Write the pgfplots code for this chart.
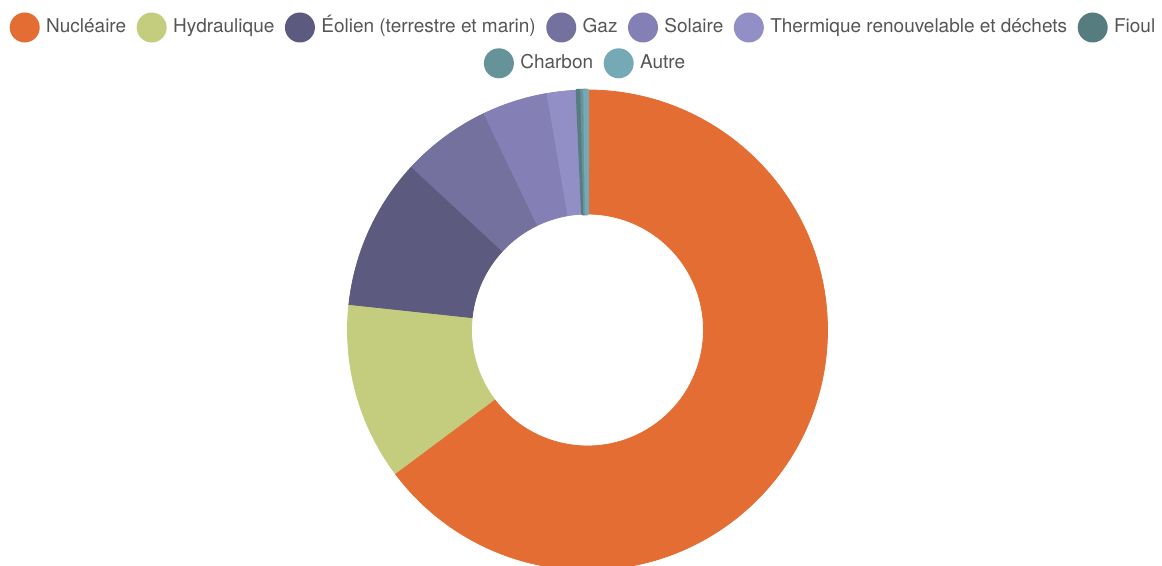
\documentclass[border=0pt]{standalone}
\usepackage{pgfplots}
\usepackage{pgfplotstable}
\pgfplotsset{compat=1.18}
\usepackage{fontspec}
\setmainfont{TeX Gyre Heros}

\definecolor{slice0}{HTML}{E46D33}
\definecolor{slice1}{HTML}{C4CC7E}
\definecolor{slice2}{HTML}{5D5A80}
\definecolor{slice3}{HTML}{74719E}
\definecolor{slice4}{HTML}{8480B6}
\definecolor{slice5}{HTML}{918FC5}
\definecolor{slice6}{HTML}{567C80}
\definecolor{slice7}{HTML}{66929A}
\definecolor{slice8}{HTML}{74A9B5}
\definecolor{legtext}{HTML}{555555}

% share of each source (%)
\pgfplotstableread[col sep=comma]{
source,value
Nucleaire,64.8
Hydraulique,11.9
Eolien,10.2
Gaz,6.0
Solaire,4.4
Thermique,2.0
Fioul,0.3
Charbon,0.2
Autre,0.2
}\mixtable

\def\Rout{240}
\def\Rin{116}
\def\cum{0}
\pgfplotsforeachungrouped \i in {0,...,8}{%
  \pgfplotstablegetelem{\i}{value}\of\mixtable
  \pgfmathsetmacro\sa{90-3.6*\cum}%
  \pgfmathsetmacro\newcum{\cum+\pgfplotsretval}%
  \pgfmathsetmacro\ea{90-3.6*\newcum}%
  \xdef\cum{\newcum}%
  \pgfmathsetmacro\xa{\Rout*cos(\sa)}%
  \pgfmathsetmacro\ya{\Rout*sin(\sa)}%
  \pgfmathsetmacro\xb{\Rin*cos(\ea)}%
  \pgfmathsetmacro\yb{\Rin*sin(\ea)}%
  \expandafter\xdef\csname sa\i\endcsname{\sa}%
  \expandafter\xdef\csname ea\i\endcsname{\ea}%
  \expandafter\xdef\csname xa\i\endcsname{\xa}%
  \expandafter\xdef\csname ya\i\endcsname{\ya}%
  \expandafter\xdef\csname xb\i\endcsname{\xb}%
  \expandafter\xdef\csname yb\i\endcsname{\yb}%
}
% stroke width: tiny slices get a wider stroke so they stay visible
\def\lw0{0.8pt}\def\lw1{0.8pt}\def\lw2{0.8pt}\def\lw3{0.8pt}\def\lw4{0.8pt}
\def\lw5{0.8pt}\def\lw6{2.4pt}\def\lw7{2.4pt}\def\lw8{2.4pt}
\expandafter\def\csname lw0\endcsname{0.8pt}
\expandafter\def\csname lw1\endcsname{0.8pt}
\expandafter\def\csname lw2\endcsname{0.8pt}
\expandafter\def\csname lw3\endcsname{0.8pt}
\expandafter\def\csname lw4\endcsname{0.8pt}
\expandafter\def\csname lw5\endcsname{0.8pt}
\expandafter\def\csname lw6\endcsname{2.6pt}
\expandafter\def\csname lw7\endcsname{2.6pt}
\expandafter\def\csname lw8\endcsname{2.6pt}

\pgfplotsset{
  donutaxis/.style={
    hide axis, x=1pt, y=1pt,
    xmin=-240, xmax=240, ymin=-240, ymax=240,
    enlargelimits=false, clip=false,
    at={(347.5pt,-5pt)}, anchor=south west,
    legend columns=-1,
    legend cell align=left,
    legend image code/.code={\fill[##1, draw=none] (15pt,0pt) circle[radius=15pt];},
    legend style={draw=none, fill=none, inner sep=0pt, outer sep=0pt,
      font=\fontsize{19}{23}\selectfont, text=legtext, anchor=center,
      /tikz/every odd column/.append style={column sep=6.4pt},
      /tikz/every even column/.append style={column sep=10.5pt},
      nodes={inner sep=0pt, text height=1.218em, text depth=0.25em}},
  }
}

\begin{document}
\begin{tikzpicture}
\useasboundingbox (0,0) rectangle (1162pt,565pt);
\clip (0,0) rectangle (1162pt,565pt);
\begin{axis}[donutaxis, legend style={at={(0.4896,1.1302)}}]
\pgfplotsinvokeforeach{0,...,8}{%
  \edef\tmp{\noexpand\fill[slice#1, draw=slice#1, line width=\csname lw#1\endcsname, line join=round]
    (\csname xa#1\endcsname,\csname ya#1\endcsname)
    arc[start angle=\csname sa#1\endcsname, end angle=\csname ea#1\endcsname, radius=240pt]
    -- (\csname xb#1\endcsname,\csname yb#1\endcsname)
    arc[start angle=\csname ea#1\endcsname, end angle=\csname sa#1\endcsname, radius=116pt]
    -- cycle;}%
  \tmp
}
\addlegendimage{fill=slice0}\addlegendentry{Nucléaire}
\addlegendimage{fill=slice1}\addlegendentry{Hydraulique}
\addlegendimage{fill=slice2}\addlegendentry{Éolien (terrestre et marin)}
\addlegendimage{fill=slice3}\addlegendentry{Gaz}
\addlegendimage{fill=slice4}\addlegendentry{Solaire}
\addlegendimage{fill=slice5}\addlegendentry{Thermique renouvelable et déchets}
\addlegendimage{fill=slice6}\addlegendentry{Fioul}
\end{axis}
\begin{axis}[donutaxis, legend style={at={(0.49375,1.0556)}}]
\addlegendimage{fill=slice7}\addlegendentry{Charbon}
\addlegendimage{fill=slice8}\addlegendentry{Autre}
\end{axis}
\end{tikzpicture}
\end{document}
